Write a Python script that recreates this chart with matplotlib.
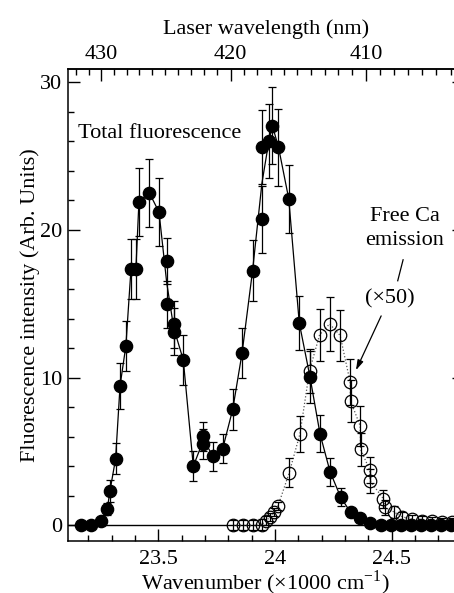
import numpy as np
import pandas as pd
import matplotlib
matplotlib.use("Agg")
import matplotlib.pyplot as plt
from matplotlib.ticker import FixedLocator, MultipleLocator

plt.rcParams['font.family'] = ['Liberation Serif', 'DejaVu Serif']
plt.rcParams['mathtext.fontset'] = 'stix'

# Total fluorescence (filled circles)
total_x = [23.168, 23.211, 23.254, 23.281, 23.293, 23.317, 23.336, 23.361, 23.383, 23.404,
           23.417, 23.461, 23.503, 23.536, 23.536, 23.566, 23.566, 23.607, 23.650, 23.693,
           23.693, 23.736, 23.776, 23.819, 23.859, 23.904, 23.944, 23.944, 23.974, 23.989,
           24.015, 24.059, 24.104, 24.150, 24.193, 24.236, 24.281, 24.324, 24.366, 24.409,
           24.454, 24.497, 24.540, 24.583, 24.626, 24.669, 24.711, 24.754]
total_y = [0.0, 0.0, 0.31, 1.08, 2.34, 4.51, 9.44, 12.15, 17.37, 17.37,
           21.92, 22.53, 21.21, 17.89, 14.97, 13.62, 13.12, 11.2, 4.0, 6.02,
           5.5, 4.67, 5.19, 7.86, 11.67, 17.25, 20.71, 25.61, 26.04, 27.05,
           25.61, 22.11, 13.71, 10.05, 6.19, 3.63, 1.92, 0.87, 0.47, 0.18,
           0.0, 0.0, 0.0, 0.0, 0.0, 0.0, 0.0, 0.0]
total_err = [0.1, 0.1, 0.15, 0.4, 0.75, 1.05, 1.55, 1.7, 2.05, 2.05,
             2.3, 2.3, 2.3, 1.55, 1.6, 1.6, 1.6, 1.7, 1.0, 1.0,
             1.0, 1.0, 1.0, 1.4, 1.7, 2.05, 2.3, 2.5, 2.5, 2.6,
             2.6, 2.3, 1.85, 1.75, 1.25, 0.95, 0.6, 0.3, 0.2, 0.1,
             0.1, 0.1, 0.1, 0.1, 0.1, 0.1, 0.1, 0.1]

# Free Ca emission (x50, open circles)
ca_x = [23.821, 23.864, 23.904, 23.943, 23.961, 23.979, 23.996, 24.013, 24.061, 24.107,
        24.148, 24.191, 24.234, 24.279, 24.322, 24.324, 24.365, 24.367, 24.406, 24.408,
        24.465, 24.470, 24.508, 24.545, 24.587, 24.630, 24.673, 24.716, 24.759]
ca_y = [0.0, 0.0, 0.0, 0.05, 0.3, 0.56, 0.9, 1.31, 3.56, 6.19,
        10.47, 12.89, 13.64, 12.86, 9.71, 8.42, 6.73, 5.14, 3.75, 3.0,
        1.78, 1.21, 0.92, 0.58, 0.41, 0.31, 0.26, 0.22, 0.19]
ca_err = [0.35, 0.35, 0.35, 0.35, 0.3, 0.3, 0.3, 0.3, 1.0, 1.2,
          1.5, 1.75, 1.85, 1.75, 1.55, 1.4, 1.35, 1.1, 0.9, 0.8,
          0.6, 0.5, 0.4, 0.3, 0.3, 0.3, 0.3, 0.3, 0.3]

bottom_ticks = [23.5, 24.0, 24.5]
bottom_labels = ['23.5', '24', '24.5']
top_ticks = [430, 420, 410]

FS = 16

fig = plt.figure(figsize=(4.54, 5.93), dpi=100)
ax = fig.add_axes([68 / 454, 1 - 540.5 / 593, 396 / 454, 471.5 / 593])

ax.axhline(0, color='black', lw=1.0, zorder=1)

# line through the total-fluorescence points (repeated wavenumbers averaged)
df = pd.DataFrame({'x': total_x, 'y': total_y})
curve = df.groupby('x', sort=True)['y'].mean()
ax.plot(curve.index, curve.values, '-', color='black', lw=0.9, zorder=2)

ax.plot(ca_x, ca_y, ':', color='#555555', lw=0.9, zorder=2)

ax.errorbar(ca_x, ca_y, yerr=ca_err, fmt='o', ms=9, mfc='none', mec='black', mew=0.9,
            ecolor='black', elinewidth=0.9, capsize=3, capthick=0.9, zorder=3)
ax.errorbar(total_x, total_y, yerr=total_err, fmt='o', ms=8.8, mfc='black', mec='black',
            ecolor='black', elinewidth=0.9, capsize=3, capthick=0.9, zorder=4)

ax.set_xlim(23.113, 24.810)
ax.set_ylim(-1.03, 30.9)

ax.xaxis.set_major_locator(FixedLocator(bottom_ticks))
ax.set_xticklabels(bottom_labels)
ax.xaxis.set_minor_locator(MultipleLocator(0.1))
ax.yaxis.set_major_locator(MultipleLocator(10))
ax.yaxis.set_minor_locator(MultipleLocator(2))
ax.tick_params(which='both', direction='in', top=False, right=True, labelsize=FS, width=1.0)
ax.tick_params(which='major', length=8.6)
ax.tick_params(which='minor', length=4.3)
ax.tick_params(axis='x', pad=6.5)
ax.tick_params(axis='y', pad=4)
for s in ax.spines.values():
    s.set_linewidth(1.1)

ax.set_xlabel('Wavenumber (\u00d71000 cm$^{\\mathregular{-1}}$)', fontsize=FS, labelpad=0)
ax.set_ylabel('Fluorescence intensity (Arb. Units)', fontsize=FS, labelpad=0)


def k_to_nm(k):
    return 1e4 / np.asarray(k, dtype=float)


secax = ax.secondary_xaxis('top', functions=(k_to_nm, k_to_nm))
secax.xaxis.set_major_locator(FixedLocator(top_ticks))
secax.xaxis.set_minor_locator(FixedLocator(list(range(400, 436))))
secax.tick_params(which='both', direction='in', labelsize=FS, width=1.0, pad=3.5)
secax.tick_params(which='major', length=8.6)
secax.tick_params(which='minor', length=4.3)
secax.spines['top'].set_linewidth(1.1)
secax.set_xlabel('Laser wavelength (nm)', fontsize=FS, labelpad=8)

ax.text(23.156, 26.24, 'Total fluorescence', fontsize=FS, ha='left', va='baseline')
ax.text(24.557, 20.6, 'Free Ca', fontsize=FS, ha='center', va='baseline')
ax.text(24.557, 18.95, 'emission', fontsize=FS, ha='center', va='baseline')
ax.text(24.49, 15.35, '(\u00d750)', fontsize=FS, ha='center', va='center')
ax.plot([24.549, 24.526], [17.98, 16.56], color='black', lw=0.9)
ax.annotate('', xy=(24.347, 10.5), xytext=(24.455, 14.18),
            arrowprops=dict(arrowstyle='-|>,head_length=0.6,head_width=0.18',
                            color='black', lw=0.9, shrinkA=0, shrinkB=0))

fig.savefig('out.png', dpi=100)
